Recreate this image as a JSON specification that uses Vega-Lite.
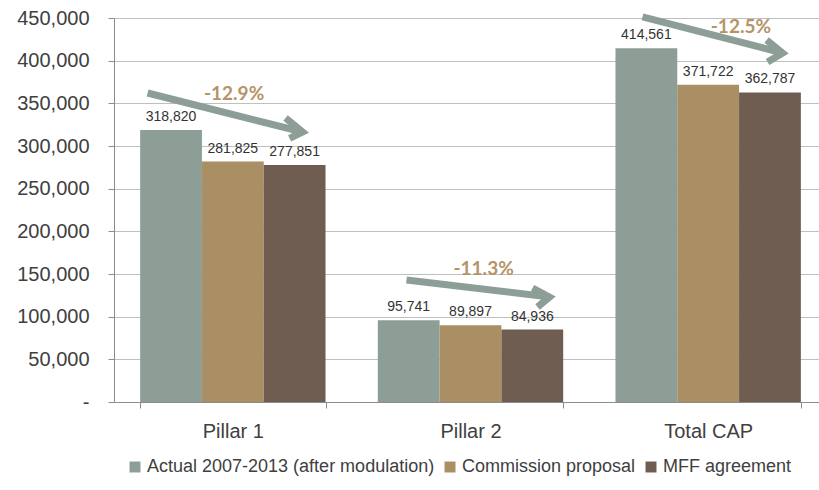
{
  "$schema": "https://vega.github.io/schema/vega-lite/v6.json",
  "width": 705,
  "height": 384,
  "autosize": {"type": "none"},
  "padding": {"left": 114, "top": 18, "right": 0, "bottom": 88},
  "background": "white",
  "config": {"view": {"stroke": null}, "font": "Liberation Sans"},
  "datasets": {
    "bars": [
      {"category": "Pillar 1", "series": "Actual 2007-2013 (after modulation)", "value": 318820},
      {"category": "Pillar 1", "series": "Commission proposal", "value": 281825},
      {"category": "Pillar 1", "series": "MFF agreement", "value": 277851},
      {"category": "Pillar 2", "series": "Actual 2007-2013 (after modulation)", "value": 95741},
      {"category": "Pillar 2", "series": "Commission proposal", "value": 89897},
      {"category": "Pillar 2", "series": "MFF agreement", "value": 84936},
      {"category": "Total CAP", "series": "Actual 2007-2013 (after modulation)", "value": 414561},
      {"category": "Total CAP", "series": "Commission proposal", "value": 371722},
      {"category": "Total CAP", "series": "MFF agreement", "value": 362787}
    ],
    "shafts": [
      {"arrow": "Pillar 1", "x1": 0.1414, "y1": 362100, "x2": 0.7935, "y2": 316400},
      {"arrow": "Pillar 2", "x1": 1.2308, "y1": 143000, "x2": 1.8326, "y2": 123000},
      {"arrow": "Total CAP", "x1": 2.2238, "y1": 451200, "x2": 2.8132, "y2": 409000}
    ],
    "heads": [
      {"arrow": "Pillar 1", "ord": 1, "x": 0.722, "y": 332800},
      {"arrow": "Pillar 1", "ord": 2, "x": 0.7935, "y": 316400},
      {"arrow": "Pillar 1", "ord": 3, "x": 0.7389, "y": 309000},
      {"arrow": "Pillar 2", "ord": 1, "x": 1.7611, "y": 133600},
      {"arrow": "Pillar 2", "ord": 2, "x": 1.8326, "y": 123000},
      {"arrow": "Pillar 2", "ord": 3, "x": 1.7821, "y": 111300},
      {"arrow": "Total CAP", "ord": 1, "x": 2.7458, "y": 424200},
      {"arrow": "Total CAP", "ord": 2, "x": 2.8132, "y": 409000},
      {"arrow": "Total CAP", "ord": 3, "x": 2.75, "y": 398400}
    ],
    "pct": [
      {"label": "-12.9%", "x": 0.5053, "y": 360600},
      {"label": "-11.3%", "x": 1.5551, "y": 155500},
      {"label": "-12.5%", "x": 2.6377, "y": 439800}
    ]
  },
  "layer": [
    {
      "data": {"name": "bars"},
      "encoding": {
        "x": {
          "field": "category",
          "type": "nominal",
          "sort": ["Pillar 1", "Pillar 2", "Total CAP"],
          "scale": {"range": [0, 713], "paddingInner": 0.22, "paddingOuter": 0.11},
          "axis": {
            "title": null,
            "labelAngle": 0,
            "tickBand": "extent",
            "tickSize": 6,
            "tickColor": "#8c8c8c",
            "domainColor": "#8c8c8c",
            "labelFontSize": 20,
            "labelColor": "#404040",
            "labelPadding": 13
          }
        },
        "y": {
          "field": "value",
          "type": "quantitative",
          "scale": {"domain": [0, 450000], "nice": false},
          "axis": {
            "title": null,
            "values": [0, 50000, 100000, 150000, 200000, 250000, 300000, 350000, 400000, 450000],
            "labelExpr": "datum.value === 0 ? '-' : format(datum.value, ',')",
            "labelFontSize": 20,
            "labelColor": "#404040",
            "labelPadding": 19,
            "tickSize": 6,
            "tickColor": "#8c8c8c",
            "domainColor": "#8c8c8c",
            "gridColor": "#bfbfbf",
            "grid": true
          }
        },
        "xOffset": {
          "field": "series",
          "sort": ["Actual 2007-2013 (after modulation)", "Commission proposal", "MFF agreement"]
        }
      },
      "layer": [
        {
          "mark": {"type": "bar"},
          "encoding": {
            "color": {
              "field": "series",
              "type": "nominal",
              "sort": ["Actual 2007-2013 (after modulation)", "Commission proposal", "MFF agreement"],
              "scale": {
                "domain": ["Actual 2007-2013 (after modulation)", "Commission proposal", "MFF agreement"],
                "range": ["#8c9e95", "#aa8e64", "#6f5d52"]
              },
              "legend": {
                "title": null,
                "orient": "none",
                "direction": "horizontal",
                "legendX": 12,
                "legendY": 440,
                "symbolType": "square",
                "symbolSize": 120,
                "symbolStrokeWidth": 0,
                "labelFontSize": 18,
                "labelColor": "#404040",
                "labelOffset": 3,
                "labelLimit": 0,
                "columnPadding": 6
              }
            }
          }
        },
        {
          "mark": {"type": "text", "baseline": "bottom", "dy": -6, "fontSize": 14, "color": "#333333"},
          "encoding": {"text": {"field": "value", "type": "quantitative", "format": ","}}
        }
      ]
    },
    {
      "data": {"name": "shafts"},
      "mark": {"type": "rule", "strokeWidth": 7, "color": "#8c9e95", "strokeCap": "butt"},
      "encoding": {
        "x": {"field": "x1", "type": "quantitative", "scale": {"domain": [0, 3], "range": [0, 713]}, "axis": null},
        "y": {"field": "y1", "type": "quantitative", "title": null},
        "x2": {"field": "x2"},
        "y2": {"field": "y2"}
      }
    },
    {
      "data": {"name": "heads"},
      "mark": {"type": "line", "strokeWidth": 7, "color": "#8c9e95", "strokeJoin": "miter", "strokeCap": "butt"},
      "encoding": {
        "x": {"field": "x", "type": "quantitative", "scale": {"domain": [0, 3], "range": [0, 713]}, "axis": null},
        "y": {"field": "y", "type": "quantitative", "title": null},
        "detail": {"field": "arrow"},
        "order": {"field": "ord"}
      }
    },
    {
      "data": {"name": "pct"},
      "mark": {"type": "text", "font": "Lato", "fontWeight": "bold", "fontSize": 19, "color": "#b59468"},
      "encoding": {
        "x": {"field": "x", "type": "quantitative", "scale": {"domain": [0, 3], "range": [0, 713]}, "axis": null},
        "y": {"field": "y", "type": "quantitative", "title": null},
        "text": {"field": "label"}
      }
    }
  ],
  "resolve": {"scale": {"x": "independent"}}
}
